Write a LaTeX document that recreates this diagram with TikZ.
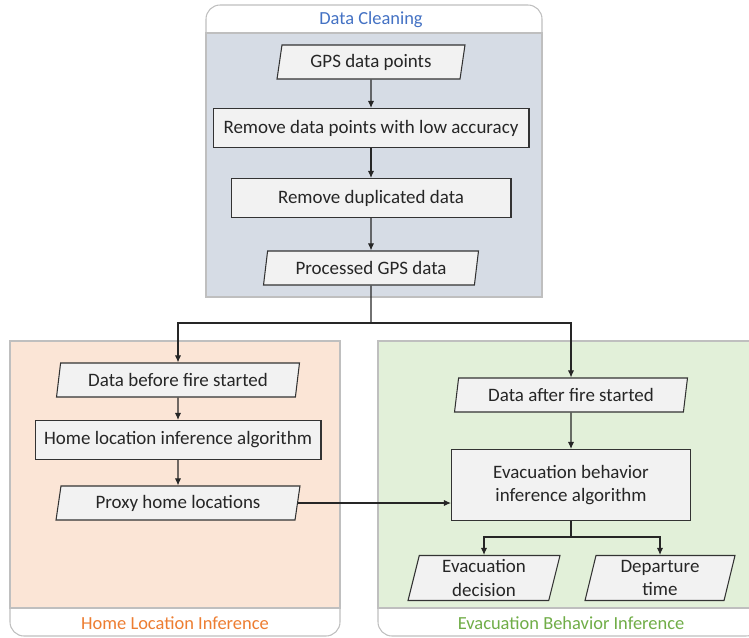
\documentclass[tikz,border=0pt]{standalone}
\usepackage{fontspec}
\setmainfont{Carlito}
\usepackage{tikz}
\usetikzlibrary{shapes.geometric,arrows.meta}

\definecolor{cleanfill}{HTML}{D6DCE5}
\definecolor{homefill}{HTML}{FBE5D6}
\definecolor{evacfill}{HTML}{E2F0D9}
\definecolor{framegray}{HTML}{BFBFBF}
\definecolor{boxfill}{HTML}{F2F2F2}
\definecolor{cleantitle}{HTML}{4472C4}
\definecolor{hometitle}{HTML}{ED7D31}
\definecolor{evactitle}{HTML}{70AD47}

\begin{document}
\begin{tikzpicture}[x=0.02cm,y=-0.02cm,
  txt/.style={font=\fontsize{10.8}{13.4}\selectfont, text=black!85},
  procbox/.style={txt, draw=black!80, fill=boxfill, line width=0.6pt, rectangle, inner sep=0pt},
  databox/.style={txt, draw=black!80, fill=boxfill, line width=0.6pt, trapezium, trapezium left angle=73, trapezium right angle=107, trapezium stretches body, inner sep=0pt},
  flow/.style={line width=0.6pt, draw=black!85},
  arr/.style={flow, -{Latex[length=4pt,width=3.5pt]}},
  panel/.style={draw=framegray, line width=0.6pt},
  ptitle/.style={font=\fontsize{10.5}{13}\selectfont}]
\useasboundingbox (0,0) rectangle (749,637);

\draw[panel, fill=white, rounded corners=8] (206,297) -- (206,5) -- (542,5) -- (542,297);
\draw[panel, fill=cleanfill] (206,33) rectangle (542,297);
\node[ptitle, text=cleantitle] (tclean) at (371,20) {Data Cleaning};

\draw[panel, fill=white, rounded corners=8] (10,341) -- (10,636) -- (340,636) -- (340,341);
\draw[panel, fill=homefill] (10,341) rectangle (340,608);
\node[ptitle, text=hometitle] (thome) at (175,623) {Home Location Inference};

\draw[panel, fill=white, rounded corners=8] (378,341) -- (378,636) -- (760,636) -- (760,341);
\draw[panel, fill=evacfill] (378,341) rectangle (760,608);
\node[ptitle, text=evactitle] (tevac) at (571,623) {Evacuation Behavior Inference};

\node[databox, minimum width=3.76cm, minimum height=0.68cm] (gps) at (371,62) {GPS data points};
\node[procbox, minimum width=6.32cm, minimum height=0.78cm] (acc) at (371,128) {Remove data points with low accuracy};
\node[procbox, minimum width=5.6cm, minimum height=0.78cm] (dup) at (371,198) {Remove duplicated data};
\node[databox, minimum width=4.3cm, minimum height=0.68cm] (proc) at (371,268) {Processed GPS data};

\node[databox, minimum width=4.86cm, minimum height=0.68cm] (before) at (178,380) {Data before fire started};
\node[procbox, minimum width=5.72cm, minimum height=0.78cm] (home) at (178,440) {Home location inference algorithm};
\node[databox, minimum width=4.88cm, minimum height=0.68cm] (proxy) at (178,503) {Proxy home locations};

\node[databox, minimum width=4.66cm, minimum height=0.68cm] (after) at (571,395) {Data after fire started};
\node[procbox, minimum width=4.78cm, minimum height=1.42cm, align=center] (evac) at (571,485) {Evacuation behavior\\inference algorithm};
\node[databox, minimum width=3.04cm, minimum height=0.9cm, align=center] (dec) at (484,578) {Evacuation\\decision};
\node[databox, minimum width=3.0cm, minimum height=0.9cm, align=center] (dep) at (660,578) {Departure\\time};

\coordinate (split) at (371,323);
\coordinate (fork) at (571,537);

\draw[arr] (gps) -- (acc);
\draw[arr] (acc) -- (dup);
\draw[arr] (dup) -- (proc);
\draw[flow] (proc) -- (split);
\draw[arr] (split) -| (before);
\draw[arr] (split) -| (after);
\draw[arr] (before) -- (home);
\draw[arr] (home) -- (proxy);
\draw[arr] (proxy.east) -- (proxy.east -| evac.west);
\draw[arr] (after) -- (evac);
\draw[flow] (evac) -- (fork);
\draw[arr] (fork) -| (dec);
\draw[arr] (fork) -| (dep);
\end{tikzpicture}
\end{document}
